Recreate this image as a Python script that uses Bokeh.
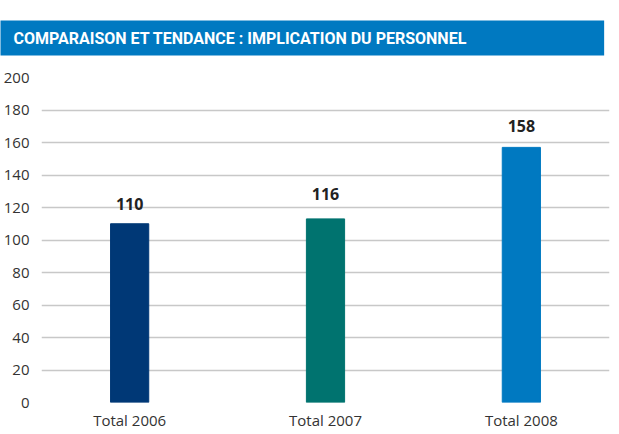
from bokeh.plotting import figure
from bokeh.models import ColumnDataSource, Title, FixedTicker, FactorRange
from bokeh.embed import file_html
from bokeh.resources import INLINE
from bokeh.core.properties import value

categories = ["Total 2006", "Total 2007", "Total 2008"]
bar_values = [110, 113, 157]
label_values = [110, 116, 158]
label_texts = ["110", "116", "158"]
bar_colors = ["#003876", "#00736f", "#0079c1"]
y_ticks = [0, 20, 40, 60, 80, 100, 120, 140, 160, 180, 200]
title_text = "COMPARAISON ET TENDANCE : IMPLICATION DU PERSONNEL"

W, H = 610, 432
BL, BR, BT, BB = 40, 1, 72, 28

src = ColumnDataSource(dict(cat=categories, top=bar_values, ly=label_values,
                            lt=label_texts, color=bar_colors))

xr = FactorRange(factors=categories, range_padding=-0.0333, range_padding_units="percent")
p = figure(width=W, height=H, x_range=xr, y_range=(0, 200),
           output_backend="svg", toolbar_location=None,
           min_border_left=BL, min_border_right=BR, min_border_top=BT, min_border_bottom=BB)
p.outline_line_color = None

p.title = Title(text=title_text, align="left", offset=-41, vertical_align="top",
                text_font="Roboto", text_font_style="bold", text_font_size="16px",
                text_color="white", standoff=40,
                background_fill_color="#0079c1", padding=(13, 137, 8, 8))

p.vbar(x="cat", top="top", width=0.195, color="color", source=src)
p.text(x="cat", y="ly", text="lt", source=src, y_offset=-20,
       text_align="center", text_baseline="middle",
       text_font=value("Open Sans"), text_font_style="bold",
       text_font_size="16px", text_color="#222222")

p.yaxis.ticker = FixedTicker(ticks=y_ticks)
p.ygrid.ticker = FixedTicker(ticks=y_ticks)
p.xgrid.visible = False
p.ygrid.grid_line_color = "#c8c8c8"
p.ygrid.grid_line_width = 1.5
for ax in (p.xaxis, p.yaxis):
    ax.axis_line_color = None
    ax.major_tick_line_color = None
    ax.minor_tick_line_color = None
    ax.major_label_text_font = "Open Sans"
    ax.major_label_text_font_size = "15px"
    ax.major_label_text_color = "#333333"
p.yaxis.major_label_standoff = 6
p.xaxis.major_label_standoff = 1

open("out.html", "w").write(file_html(p, INLINE))
